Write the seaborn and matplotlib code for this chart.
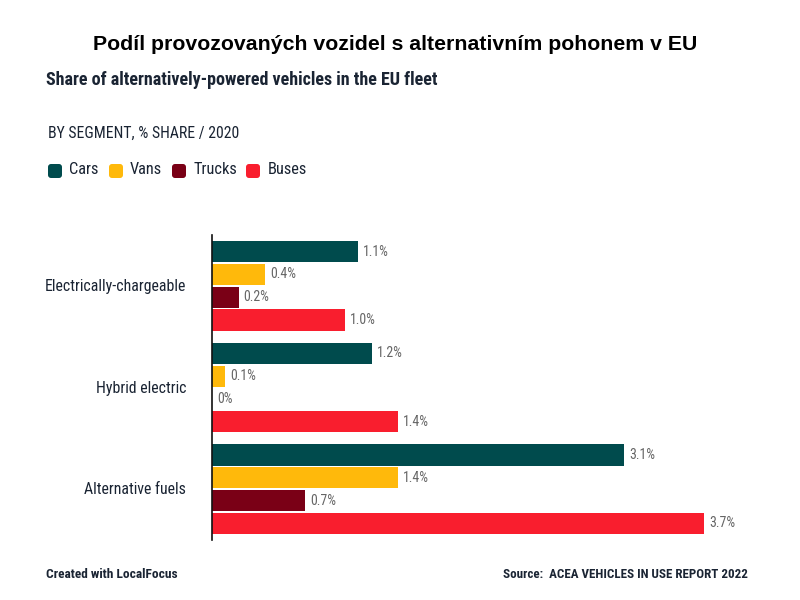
import matplotlib
matplotlib.use('Agg')
import matplotlib.pyplot as plt
from matplotlib.patches import FancyBboxPatch
from matplotlib.transforms import ScaledTranslation
import pandas as pd
import seaborn as sns

categories = ['Electrically-chargeable', 'Hybrid electric', 'Alternative fuels']
segments = ['Cars', 'Vans', 'Trucks', 'Buses']
cars = [1.1, 1.2, 3.1]
vans = [0.4, 0.1, 1.4]
trucks = [0.2, 0.0, 0.7]
buses = [1.0, 1.4, 3.7]
cars_labels = ['1.1%', '1.2%', '3.1%']
vans_labels = ['0.4%', '0.1%', '1.4%']
trucks_labels = ['0.2%', '0%', '0.7%']
buses_labels = ['1.0%', '1.4%', '3.7%']

colors = ['#004b4d', '#ffb90b', '#7a0016', '#f91e2e']
dark = '#1a2433'

df = pd.DataFrame({'Category': categories, 'Cars': cars, 'Vans': vans,
                   'Trucks': trucks, 'Buses': buses})
df = df.melt(id_vars='Category', var_name='Segment', value_name='Share')

sns.set_style('white')
plt.rcParams['font.family'] = ['Roboto Condensed', 'Roboto', 'DejaVu Sans']

fig = plt.figure(figsize=(8, 6), dpi=100)
ax = fig.add_axes([212 / 800, 1 - 540 / 600, 548 / 800, 305 / 600])

sns.barplot(data=df, y='Category', x='Share', hue='Segment', order=categories,
            hue_order=segments, palette=colors, saturation=1, width=0.895,
            gap=0.07, linewidth=0, legend=False, ax=ax)

ax.set_xlim(0, 4.12)
ax.set_xlabel('')
ax.set_ylabel('')
ax.xaxis.set_visible(False)
sns.despine(ax=ax, left=False, top=True, right=True, bottom=True)
ax.spines['left'].set_color('#111111')
ax.spines['left'].set_linewidth(1.2)
ax.tick_params(axis='y', length=0, pad=18.5, labelsize=11.4, labelcolor=dark)

# category labels sit a touch above the group centre
offset = ScaledTranslation(0, 1 / 100, fig.dpi_scale_trans)
for label in ax.get_yticklabels():
    label.set_transform(label.get_transform() + offset)

all_labels = [cars_labels, vans_labels, trucks_labels, buses_labels]
for container, labels in zip(ax.containers, all_labels):
    ax.bar_label(container, labels=labels, padding=3.5, fontsize=10, color='#666666')

# header text
fig.text(0.494, 1 - 45 / 600, 'Podíl provozovaných vozidel s alternativním pohonem v EU',
         family='Liberation Sans', fontsize=15.3, fontweight='bold', color='black',
         ha='center', va='center')
fig.text(46 / 800, 1 - 80 / 600, 'Share of alternatively-powered vehicles in the EU fleet',
         fontsize=13, fontweight='bold', color=dark, ha='left', va='center')
fig.text(48 / 800, 1 - 133 / 600, 'BY SEGMENT, % SHARE / 2020',
         fontsize=11.3, color=dark, ha='left', va='center')

# legend swatches, figure pixels from the bottom
swatch_x = [48, 109, 172, 246]
label_x = [69, 130, 194, 268]
for sx, lx, name, c in zip(swatch_x, label_x, segments, colors):
    fig.add_artist(FancyBboxPatch((sx + 2, 600 - 176), 10, 10,
                                  boxstyle='round,pad=2,rounding_size=3',
                                  transform=None, fc=c, ec='none'))
    fig.text(lx / 800, 1 - 170 / 600, name, fontsize=11.8, color=dark, ha='left', va='center')

fig.text(46 / 800, 1 - 575 / 600, 'Created with LocalFocus',
         fontsize=9.6, fontweight='bold', color=dark, ha='left', va='center')
fig.text(748 / 800, 1 - 575 / 600, 'Source:  ACEA VEHICLES IN USE REPORT 2022',
         fontsize=9.4, fontweight='bold', color=dark, ha='right', va='center')

fig.savefig('out.png', dpi=100)
